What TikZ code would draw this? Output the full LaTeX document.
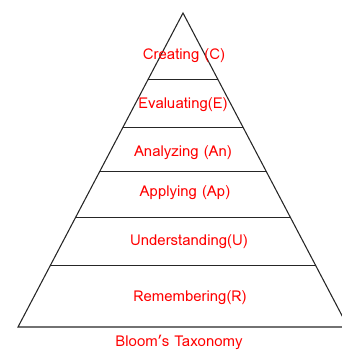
\documentclass[tikz,border=0pt]{standalone}
\usepackage{fontspec}
\setmainfont{Loma}
\usetikzlibrary{calc}

\begin{document}
\begin{tikzpicture}%
[x=0.75pt, y=-0.75pt,%
edge/.style={draw=black!85, line width=0.8pt},%
level/.style={text=red, font=\fontsize{11.2}{13}\selectfont, inner sep=0pt}]

\useasboundingbox (0,0) rectangle (342,351);
\clip (0,0) rectangle (342,351);

\coordinate (apex) at (183,13);
\coordinate (BL) at (18,327);
\coordinate (BR) at (348,327);

\draw[edge] (BL) -- (apex) -- (BR) -- cycle;

\foreach \t/\n in {0.213/1,0.366/2,0.506/3,0.650/4,0.803/5}
  \draw[edge] ($(apex)!\t!(BL)$) coordinate (L\n) -- ($(apex)!\t!(BR)$) coordinate (R\n);

\node[level] (c) at (184,56) {Creating (C)};
\node[level] (e) at (183,105) {Evaluating(E)};
\node[level] (an) at (183,153) {Analyzing (An)};
\node[level] (ap) at (185,193) {Applying (Ap)};
\node[level] (u) at (189,242) {Understanding(U)};
\node[level] (r) at (190,298) {Remembering(R)};
\node[level] (title) at (179,342) {Bloom’s Taxonomy};
\end{tikzpicture}
\end{document}
